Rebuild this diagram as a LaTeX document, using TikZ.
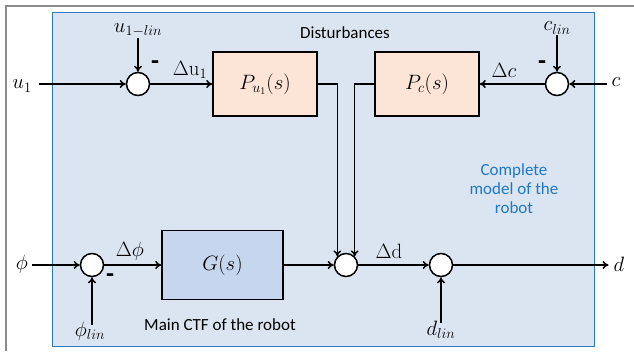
\documentclass[tikz,border=0pt]{standalone}
\usepackage[no-math]{fontspec}
\setmainfont{Carlito}
\usetikzlibrary{arrows.meta}
\definecolor{bgblue}{HTML}{DBE5F1}
\definecolor{frameblue}{HTML}{2E7CC0}
\definecolor{peach}{HTML}{FCE4D6}
\definecolor{gblue}{HTML}{C5D6EE}
\definecolor{txtblue}{HTML}{1F78C4}
\definecolor{outergray}{HTML}{8C8C8C}
\begin{document}
\begin{tikzpicture}[x=1pt,y=-1pt,font=\fontsize{17}{19}\selectfont,
  sig/.style={line width=1.5pt,-{To[length=6pt,width=8pt]}},
  sumnode/.style={circle,draw,line width=1.5pt,fill=white,minimum size=23pt,inner sep=0pt},
  blk/.style={draw,line width=1.5pt,rectangle,inner sep=0pt,font=\fontsize{20}{22}\selectfont},
  lbl/.style={inner sep=1pt,font=\fontsize{20}{22}\selectfont},
  minus/.style={inner sep=0pt,font=\fontsize{26}{28}\selectfont\bfseries}]
\useasboundingbox (0,0) rectangle (634,351);
\draw[outergray,line width=1.2pt] (6,351) -- (6,6) -- (634,6);
\node[draw=frameblue,fill=bgblue,line width=1.3pt,minimum width=542pt,minimum height=334pt,anchor=north west,inner sep=0pt] (frame) at (52,12) {};
% blocks
\node[blk,fill=peach,minimum width=104pt,minimum height=64pt] (Pu) at (265,84) {$P_{u_1}(s)$};
\node[blk,fill=peach,minimum width=104pt,minimum height=64pt] (Pc) at (427,84) {$P_c(s)$};
\node[blk,fill=gblue,minimum width=121pt,minimum height=69pt] (G) at (222.5,265) {$G(s)$};
% sums
\node[sumnode] (s1) at (138,84) {};
\node[sumnode] (s2) at (557,84) {};
\node[sumnode] (s3) at (92,265) {};
\node[sumnode] (s4) at (346,265) {};
\node[sumnode] (s5) at (441,265) {};
% labels
\node[lbl] (u1) at (22,86) {$u_1$};
\node[lbl] (ulin) at (138,30) {$u_{1-lin}$};
\node[lbl] (clin) at (557,28) {$c_{lin}$};
\node[lbl] (c) at (616,82) {$c$};
\node[lbl] (phi) at (22,264) {$\phi$};
\node[lbl] (philin) at (90,331) {$\phi_{lin}$};
\node[lbl] (dlin) at (441,330) {$d_{lin}$};
\node[lbl] (d) at (619,264) {$d$};
\node[lbl] (du) at (190,70) {$\Delta\mathrm{u}_1$};
\node[lbl] (dc) at (504,70) {$\Delta c$};
\node[lbl] (dphi) at (130,251) {$\Delta\phi$};
\node[lbl] (dd) at (389,251) {$\Delta\mathrm{d}$};
\node[minus] (m1) at (155,65) {-};
\node[minus] (m2) at (542,65) {-};
\node[minus] (m3) at (110,278) {-};
\node (dist) at (345,33) {Disturbances};
\node (ctf) at (220,325) {Main CTF of the robot};
\node[txtblue,align=center] (cm) at (514,189) {Complete\\model of the\\robot};
% connectors
\draw[sig] ([xshift=6pt]u1.east |- s1.west) -- (s1.west);
\draw[sig] (s1.north |- ulin.south) -- (s1.north);
\draw[sig] (s1.east) -- (Pu.west);
\draw[sig] (s2.north |- clin.south) -- (s2.north);
\draw[sig] ([xshift=-3pt]c.west |- s2.east) -- (s2.east);
\draw[sig] (s2.west) -- (Pc.east);
\draw[sig] (Pu.east) -| (s4.north west);
\draw[sig] (Pc.west) -| (s4.north east);
\draw[sig] ([xshift=3pt]phi.east |- s3.west) -- (s3.west);
\draw[sig] ([yshift=-4pt]s3.south |- philin.north) -- (s3.south);
\draw[sig] (s3.east) -- (G.west);
\draw[sig] (G.east) -- (s4.west);
\draw[sig] (s4.east) -- (s5.west);
\draw[sig] ([yshift=-3pt]s5.south |- dlin.north) -- (s5.south);
\draw[sig] (s5.east) -- ([xshift=-4pt]d.west |- s5.east);
\end{tikzpicture}
\end{document}
